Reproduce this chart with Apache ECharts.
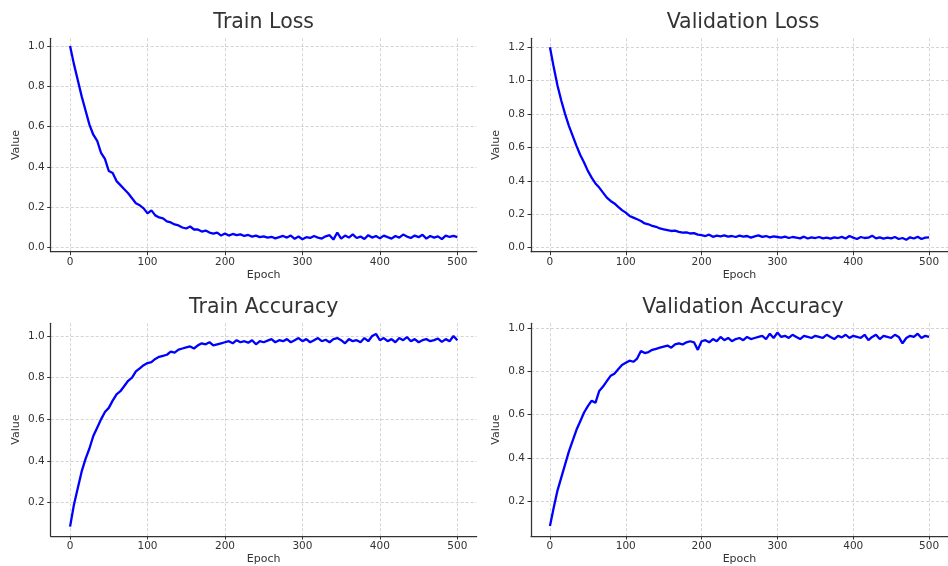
<!DOCTYPE html>
<html>
<head>
<meta charset="utf-8">
<script src="https://cdn.jsdelivr.net/npm/echarts@6/dist/echarts.min.js"></script>
<style>
html,body{margin:0;padding:0;background:#fff;}
#chart{width:948px;height:566px;}
</style>
</head>
<body>
<div id="chart"></div>
<script>
// ---- data ----
var epochs = [0,5,10,15,20,25,30,35,40,45,50,55,60,65,70,75,80,85,90,95,
  100,105,110,115,120,125,130,135,140,145,150,155,160,165,170,175,180,185,190,195,
  200,205,210,215,220,225,230,235,240,245,250,255,260,265,270,275,280,285,290,295,
  300,305,310,315,320,325,330,335,340,345,350,355,360,365,370,375,380,385,390,395,
  400,405,410,415,420,425,430,435,440,445,450,455,460,465,470,475,480,485,490,495,500];

var trainLoss = [1.00,0.91,0.83,0.75,0.68,0.61,0.56,0.53,0.47,0.44,
  0.38,0.37,0.33,0.31,0.29,0.27,0.245,0.22,0.21,0.195,
  0.17,0.185,0.16,0.15,0.145,0.13,0.125,0.115,0.11,0.10,
  0.095,0.105,0.09,0.09,0.08,0.085,0.075,0.07,0.075,0.06,
  0.07,0.06,0.068,0.062,0.066,0.058,0.063,0.055,0.06,0.052,
  0.056,0.05,0.054,0.046,0.052,0.058,0.05,0.06,0.044,0.055,
  0.042,0.052,0.048,0.058,0.05,0.045,0.056,0.062,0.04,0.075,
  0.045,0.06,0.05,0.066,0.048,0.055,0.043,0.062,0.05,0.058,
  0.046,0.06,0.052,0.045,0.058,0.05,0.065,0.055,0.048,0.06,
  0.052,0.064,0.045,0.058,0.05,0.056,0.042,0.06,0.053,0.058,0.052];

var valLoss = [1.20,1.08,0.97,0.88,0.80,0.73,0.67,0.61,0.555,0.51,
  0.46,0.42,0.385,0.36,0.33,0.30,0.28,0.265,0.245,0.225,
  0.21,0.19,0.18,0.17,0.16,0.145,0.14,0.13,0.125,0.115,
  0.11,0.105,0.10,0.102,0.095,0.09,0.092,0.085,0.087,0.078,
  0.075,0.07,0.078,0.065,0.072,0.068,0.074,0.066,0.07,0.064,
  0.072,0.066,0.07,0.06,0.068,0.074,0.065,0.07,0.062,0.068,
  0.064,0.06,0.066,0.058,0.064,0.06,0.056,0.066,0.055,0.062,
  0.058,0.064,0.056,0.06,0.054,0.062,0.058,0.065,0.055,0.07,
  0.06,0.052,0.064,0.058,0.06,0.072,0.056,0.062,0.054,0.06,
  0.056,0.064,0.052,0.058,0.048,0.062,0.055,0.066,0.052,0.06,0.062];

var trainAcc = [0.085,0.19,0.27,0.35,0.41,0.46,0.52,0.56,0.60,0.635,
  0.655,0.69,0.72,0.735,0.76,0.785,0.80,0.83,0.845,0.86,
  0.87,0.875,0.89,0.90,0.905,0.91,0.925,0.92,0.935,0.94,
  0.945,0.95,0.94,0.955,0.965,0.96,0.97,0.955,0.96,0.965,
  0.97,0.975,0.965,0.98,0.97,0.975,0.968,0.98,0.96,0.975,
  0.97,0.978,0.985,0.97,0.98,0.975,0.985,0.97,0.98,0.99,
  0.975,0.985,0.97,0.98,0.99,0.975,0.982,0.97,0.985,0.99,
  0.98,0.965,0.985,0.975,0.98,0.97,0.99,0.975,1.00,1.01,
  0.98,0.99,0.975,0.985,0.97,0.99,0.98,0.995,0.975,0.985,
  0.97,0.98,0.985,0.975,0.98,0.988,0.972,0.985,0.975,1.00,0.98];

var valAcc = [0.085,0.17,0.25,0.31,0.37,0.43,0.48,0.53,0.57,0.61,
  0.64,0.665,0.655,0.71,0.73,0.755,0.78,0.79,0.81,0.83,
  0.84,0.85,0.845,0.86,0.895,0.885,0.89,0.90,0.905,0.91,
  0.915,0.92,0.91,0.925,0.93,0.925,0.935,0.94,0.935,0.90,
  0.94,0.945,0.935,0.95,0.94,0.96,0.945,0.955,0.94,0.95,
  0.955,0.945,0.96,0.95,0.955,0.96,0.965,0.95,0.975,0.955,
  0.98,0.96,0.965,0.955,0.97,0.96,0.95,0.965,0.96,0.955,
  0.965,0.96,0.955,0.97,0.96,0.95,0.965,0.958,0.97,0.955,
  0.965,0.96,0.955,0.97,0.945,0.96,0.97,0.95,0.965,0.96,
  0.955,0.97,0.96,0.93,0.955,0.965,0.96,0.975,0.955,0.965,0.96];

var titles = ['Train Loss','Validation Loss','Train Accuracy','Validation Accuracy'];
var xTicks = [0,100,200,300,400,500];
var yTicksTrainLoss = [0.0,0.2,0.4,0.6,0.8,1.0];
var yTicksValLoss = [0.0,0.2,0.4,0.6,0.8,1.0,1.2];
var yTicksTrainAcc = [0.2,0.4,0.6,0.8,1.0];
var yTicksValAcc = [0.2,0.4,0.6,0.8,1.0];

// ---- layout / styling ----
var FONT = 'DejaVu Sans';
var TXT = '#333';
var grids = [
  {left:50.7, top:38.3, width:426, height:213.4},
  {left:531, top:38.3, width:427, height:213.4},
  {left:50.7, top:323.3, width:426, height:213.4},
  {left:531, top:323.3, width:427, height:213.4}
];
var yRanges = [[-0.02,1.038],[-0.024,1.254],[0.040,1.061],[0.0385,1.023]];
var yTickSets = [yTicksTrainLoss, yTicksValLoss, yTicksTrainAcc, yTicksValAcc];
var seriesData = [trainLoss, valLoss, trainAcc, valAcc];

function pairs(vals){
  var out = [];
  for (var i = 0; i < vals.length; i++) out.push([epochs[i], vals[i]]);
  return out;
}

var split = {show:true, lineStyle:{color:'#c9c9c9', width:0.8, type:[3,2]}};
var axisLine = {show:true, onZero:false, lineStyle:{color:'#333', width:1.25}};

var xAxes = [], yAxes = [], series = [], graphics = [];
for (var k = 0; k < 4; k++) {
  xAxes.push({
    type:'value', gridIndex:k, min:-25, max:525,
    axisLine:axisLine,
    axisTick:{show:true, length:3.5, inside:false, customValues:xTicks, lineStyle:{color:'#333', width:1}},
    axisLabel:{show:true, customValues:xTicks, fontSize:10.5, color:TXT, fontFamily:FONT, margin:5},
    splitLine:split,
    name:'Epoch', nameLocation:'middle', nameGap:18,
    nameTextStyle:{fontSize:11, color:TXT, fontFamily:FONT}
  });
  yAxes.push({
    type:'value', gridIndex:k, min:yRanges[k][0], max:yRanges[k][1],
    axisLine:axisLine,
    axisTick:{show:true, length:3.5, inside:false, customValues:yTickSets[k], lineStyle:{color:'#333', width:1}},
    axisLabel:{show:true, customValues:yTickSets[k], fontSize:10.5, color:TXT, fontFamily:FONT, margin:6,
      formatter:function(v){ return v.toFixed(1); }},
    splitLine:split,
    name:'Value', nameLocation:'middle', nameGap:29, nameRotate:90,
    nameTextStyle:{fontSize:11, color:TXT, fontFamily:FONT}
  });
  series.push({
    type:'line', xAxisIndex:k, yAxisIndex:k, data:pairs(seriesData[k]),
    showSymbol:false, symbol:'none', smooth:false, animation:false,
    lineStyle:{color:'#0000ff', width:2.3}, clip:false
  });
  graphics.push({
    type:'text', x: grids[k].left + 213, y: (k < 2 ? 23 : 308),
    style:{text:titles[k], fontSize:20.5, fontFamily:FONT, fill:TXT, align:'center', verticalAlign:'middle'}
  });
}
// right-hand plots: title centred on the visible plot region
graphics[1].x = 743;
graphics[3].x = 743;

var chart = echarts.init(document.getElementById('chart'), null, {renderer:'canvas'});
chart.setOption({
  animation:false,
  backgroundColor:'#fff',
  grid:grids,
  xAxis:xAxes,
  yAxis:yAxes,
  series:series,
  graphic:graphics
});
</script>
</body>
</html>
